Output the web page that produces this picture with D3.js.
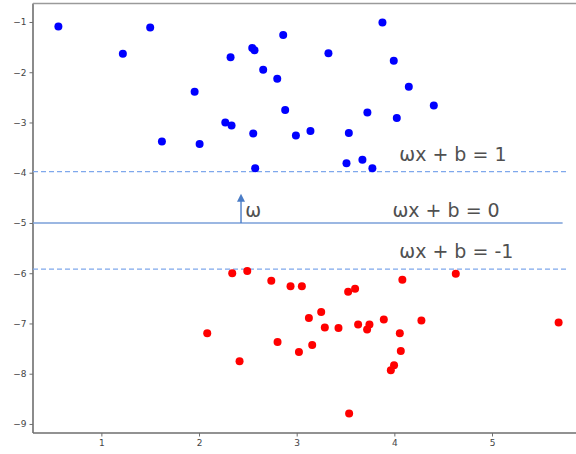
<!DOCTYPE html>
<html>
<head>
<meta charset="utf-8">
<script src="https://cdn.jsdelivr.net/npm/d3@7"></script>
<style>
  html, body { margin: 0; padding: 0; background: #fff; }
  svg { display: block; }
</style>
</head>
<body>
<svg id="chart" width="576" height="454"></svg>
<script>
// ---- data ----
const blueX = [0.56, 1.22, 1.50, 1.955, 1.62, 2.006, 2.323, 2.269, 2.333, 2.545, 2.568, 2.657, 2.801, 2.862, 2.882, 2.555, 2.575, 2.992, 3.878, 3.325, 3.994, 4.148, 4.404, 3.724, 4.025, 3.141, 3.534, 3.510, 3.673, 3.775];
const blueY = [-1.09, -1.63, -1.11, -2.39, -3.38, -3.43, -1.70, -3.00, -3.06, -1.52, -1.56, -1.95, -2.13, -1.26, -2.75, -3.22, -3.91, -3.26, -1.01, -1.62, -1.77, -2.29, -2.66, -2.80, -2.91, -3.17, -3.21, -3.81, -3.74, -3.91];
const redX = [2.340, 2.494, 2.740, 2.937, 3.053, 2.084, 2.415, 2.804, 3.023, 3.527, 3.598, 4.082, 4.629, 3.125, 3.251, 3.288, 3.428, 3.629, 3.745, 3.721, 3.892, 4.277, 5.682, 4.056, 3.159, 4.066, 3.997, 3.964, 3.537];
const redY = [-6.00, -5.955, -6.15, -6.26, -6.26, -7.195, -7.75, -7.37, -7.57, -6.37, -6.31, -6.13, -6.01, -6.89, -6.77, -7.08, -7.09, -7.02, -7.02, -7.12, -6.92, -6.94, -6.98, -7.195, -7.43, -7.55, -7.83, -7.93, -8.79];
const xTicks = [1, 2, 3, 4, 5];
const yTicks = [-1, -2, -3, -4, -5, -6, -7, -8, -9];
const boundaryY = -5;       // ωx + b = 0
const marginUpperY = -3.98; // ωx + b = 1
const marginLowerY = -5.92; // ωx + b = -1
const lineEndX = 5.723;
const dashEndX = 5.767;
const arrowX = 2.43;
const arrowTipY = -4.42;
const labels = [
  { text: "ωx + b = 1", x: 4.05, y: -3.766 },
  { text: "ωx + b = 0", x: 3.98, y: -4.875 },
  { text: "ωx + b = -1", x: 4.05, y: -5.69 },
  { text: "ω", x: 2.473, y: -4.875 }
];

// ---- layout ----
const svg = d3.select("#chart");
const pLeft = 33, pRight = 576, pTop = 3.5, pBottom = 433;
const x = d3.scaleLinear().domain([0.30, 5.86]).range([pLeft, pRight]);
const y = d3.scaleLinear().domain([-0.632, -9.18]).range([pTop, pBottom]);

const axisColor = "#6e6e6e";
const tickFont = "DejaVu Sans, sans-serif";

// spines
svg.append("line").attr("x1", pLeft).attr("x2", pLeft).attr("y1", pTop).attr("y2", pBottom)
  .attr("stroke", axisColor).attr("stroke-width", 1.6);
svg.append("line").attr("x1", pLeft).attr("x2", pRight).attr("y1", pBottom).attr("y2", pBottom)
  .attr("stroke", axisColor).attr("stroke-width", 1.6);
svg.append("line").attr("x1", pLeft).attr("x2", pRight).attr("y1", pTop).attr("y2", pTop)
  .attr("stroke", "#9a9a9a").attr("stroke-width", 1.6);

// axes
const xAxis = svg.append("g").attr("transform", `translate(0,${pBottom})`)
  .call(d3.axisBottom(x).tickValues(xTicks).tickSize(3.5).tickPadding(3.5).tickFormat(d3.format("d")));
const yAxis = svg.append("g").attr("transform", `translate(${pLeft},0)`)
  .call(d3.axisLeft(y).tickValues(yTicks).tickSize(3.5).tickPadding(3).tickFormat(d => "\u2212" + Math.abs(d)));
[xAxis, yAxis].forEach(g => {
  g.select(".domain").remove();
  g.selectAll(".tick line").attr("stroke", axisColor).attr("stroke-width", 1);
  g.selectAll(".tick text").attr("fill", "#444").style("font-family", tickFont).style("font-size", "9px");
});

// hyperplane lines
svg.append("line").attr("x1", x(0.30)).attr("x2", x(lineEndX)).attr("y1", y(boundaryY)).attr("y2", y(boundaryY))
  .attr("stroke", "#7a9fd8").attr("stroke-width", 1.6);
[marginUpperY, marginLowerY].forEach(v => {
  svg.append("line").attr("x1", x(0.30)).attr("x2", x(dashEndX)).attr("y1", y(v)).attr("y2", y(v))
    .attr("stroke", "#7fa8ec").attr("stroke-width", 1.2).attr("stroke-dasharray", "5,3");
});

// arrow (ω direction)
svg.append("line").attr("x1", x(arrowX)).attr("x2", x(arrowX)).attr("y1", y(boundaryY)).attr("y2", y(arrowTipY) + 6)
  .attr("stroke", "#4a7cc6").attr("stroke-width", 1.4);
const ax = x(arrowX), ay = y(arrowTipY);
svg.append("path").attr("d", `M${ax},${ay} L${ax - 4},${ay + 8} L${ax + 4},${ay + 8} Z`).attr("fill", "#4a7cc6");

// points
const blue = blueX.map((v, i) => ({ x: v, y: blueY[i] }));
const red = redX.map((v, i) => ({ x: v, y: redY[i] }));
svg.append("g").selectAll("circle").data(blue).join("circle")
  .attr("cx", d => x(d.x)).attr("cy", d => y(d.y)).attr("r", 4).attr("fill", "#0000ff");
svg.append("g").selectAll("circle").data(red).join("circle")
  .attr("cx", d => x(d.x)).attr("cy", d => y(d.y)).attr("r", 4).attr("fill", "#ff0000");

// annotation text
svg.append("g").selectAll("text").data(labels).join("text")
  .attr("x", d => x(d.x)).attr("y", d => y(d.y))
  .attr("fill", "#505050")
  .style("font-family", "'DejaVu Sans', sans-serif").style("font-size", "19px")
  .text(d => d.text);
</script>
</body>
</html>
